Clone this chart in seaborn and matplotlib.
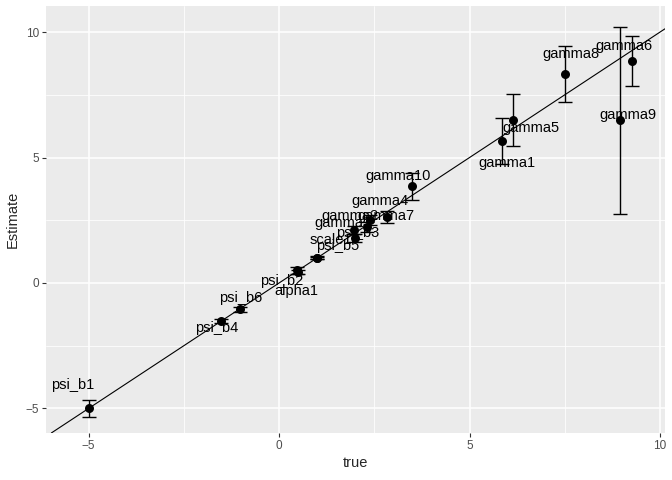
import matplotlib
matplotlib.use("Agg")
import matplotlib.pyplot as plt
import seaborn as sns
import pandas as pd

# parameter names, true values, estimates and error half-widths
params = ["psi_b1", "psi_b4", "psi_b6", "alpha1", "psi_b2", "psi_b5", "scale1",
          "psi_b3", "gamma2", "gamma3", "gamma4", "gamma7", "gamma10",
          "gamma1", "gamma5", "gamma8", "gamma9", "gamma6"]
true_vals = [-5.0, -1.52, -1.03, 0.5, 0.47, 1.0, 1.0,
             2.0, 1.97, 2.31, 2.39, 2.83, 3.49,
             5.85, 6.15, 7.5, 8.95, 9.27]
estimates = [-5.0, -1.52, -1.04, 0.45, 0.5, 1.0, 1.0,
             1.79, 2.11, 2.23, 2.52, 2.63, 3.86,
             5.66, 6.49, 8.33, 6.49, 8.84]
err_half = [0.35, 0.08, 0.1, 0.08, 0.15, 0.06, 0.05,
            0.15, 0.15, 0.2, 0.2, 0.25, 0.54,
            0.93, 1.03, 1.13, 3.73, 1.0]
# jittered label positions as they appear in the chart
label_x = [-5.41, -1.63, -1.02, 0.45, 0.08, 1.55, 1.36,
           2.05, 1.86, 1.68, 2.65, 2.81, 3.12,
           5.98, 6.61, 7.66, 9.16, 9.05]
label_y = [-4.06, -1.79, -0.60, -0.32, 0.08, 1.47, 1.71,
           1.99, 2.67, 2.39, 3.27, 2.67, 4.26,
           4.78, 6.18, 9.12, 6.69, 9.44]

df = pd.DataFrame({"param": params, "true": true_vals, "Estimate": estimates,
                   "err": err_half, "lx": label_x, "ly": label_y})

sns.set_theme(style="darkgrid", rc={
    "axes.facecolor": "#EBEBEB",
    "grid.color": "white",
    "axes.edgecolor": "none",
    "xtick.color": "#4D4D4D",
    "ytick.color": "#4D4D4D",
})
plt.rcParams["font.family"] = ["Liberation Sans", "DejaVu Sans"]

fig = plt.figure(figsize=(6.72, 4.8), dpi=100)
ax = fig.add_axes([0.0685, 0.098, 0.921, 0.8895])

ax.axline((0, 0), slope=1, color="black", lw=0.8, zorder=2)
ax.errorbar(df["true"], df["Estimate"], yerr=df["err"], fmt="none",
            ecolor="black", elinewidth=1, capsize=5, capthick=1, zorder=3)
sns.scatterplot(data=df, x="true", y="Estimate", color="black", s=42,
                edgecolor="black", linewidth=0, ax=ax, zorder=4)

for _, r in df.iterrows():
    ax.text(r["lx"], r["ly"], r["param"], ha="center", va="center",
            fontsize=10.5, color="black", zorder=5)

ax.set_xlim(-6.12, 10.13)
ax.set_ylim(-5.98, 11.04)
ax.set_xticks([-5, 0, 5, 10])
ax.set_yticks([-5, 0, 5, 10])
ax.set_xticks([-2.5, 2.5, 7.5], minor=True)
ax.set_yticks([-2.5, 2.5, 7.5], minor=True)
ax.grid(which="major", color="white", lw=1.1)
ax.grid(which="minor", color="white", lw=0.55)
ax.tick_params(which="major", length=3, width=0.8, color="#333333",
               labelsize=8.5, pad=2, bottom=True, left=True)
ax.tick_params(which="minor", length=0)
ax.set_xlabel("true", fontsize=10.5, labelpad=3)
ax.set_ylabel("Estimate", fontsize=10.5, labelpad=4)
for s in ax.spines.values():
    s.set_visible(False)

fig.savefig("out.png", dpi=100)
